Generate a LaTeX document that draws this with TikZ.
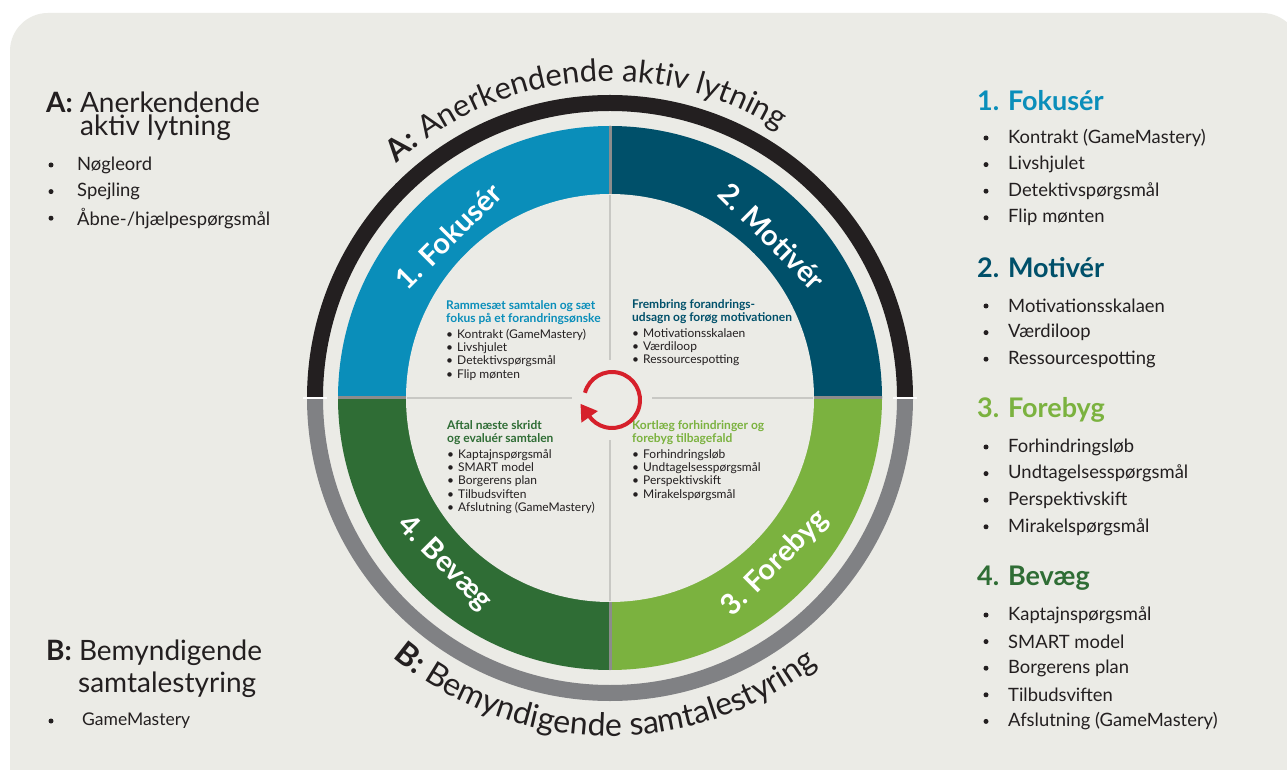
\documentclass[tikz,border=0pt]{standalone}
\usepackage{fontspec}
\setmainfont{Lato}
\usetikzlibrary{arrows.meta,decorations.text,calc}
\definecolor{bg}{HTML}{EBEBE6}
\definecolor{ink}{HTML}{231F20}
\definecolor{qone}{HTML}{0A8EBA}
\definecolor{qtwo}{HTML}{00506A}
\definecolor{qthree}{HTML}{7BB23F}
\definecolor{qfour}{HTML}{2F6D35}
\definecolor{ringgray}{HTML}{808184}
\definecolor{divgray}{HTML}{8C8C8C}
\definecolor{faint}{HTML}{C8C8C4}
\definecolor{arrowred}{HTML}{D6202B}
\newcommand\qh[2]{{\color{#1}\bfseries\fontsize{12}{13.3}\selectfont #2}}
\newcommand\qi{\makebox[11pt][l]{\textbullet}}
\begin{document}
\begin{tikzpicture}[x=1pt,y=1pt,
  itemtxt/.style={anchor=west, inner sep=0pt, font=\fontsize{18.4}{21}\selectfont, text=ink},
  bul/.style={circle, fill=ink, inner sep=0pt, minimum size=5pt},
  rhead/.style={anchor=west, inner sep=0pt, font=\fontsize{27}{30}\selectfont\bfseries},
  lhead/.style={anchor=west, inner sep=0pt, font=\fontsize{28}{31}\selectfont, text=ink},
  qlabel/.style={font=\fontsize{29}{32}\selectfont\bfseries, text=white, inner sep=0pt},
  qtext/.style={anchor=north west, align=left, inner sep=0pt, font=\fontsize{12}{13.3}\selectfont, text=ink},
  divider/.style={draw=divgray, line width=3pt},
  innerline/.style={draw=faint, line width=2pt},
  ringA/.style={draw=ink, line width=16pt},
  ringB/.style={draw=ringgray, line width=16pt}]
\useasboundingbox (0,0) rectangle (1287,769);
\clip (0,0) rectangle (1287,769);
\fill[white] (0,0) rectangle (1287,769);
\fill[bg, rounded corners=38pt] (10,756) rectangle (1300,-40);

\coordinate (C) at (610,371);
% quadrant sectors
\fill[qone] (C) -- ++(90:272) arc[start angle=90,end angle=180,radius=272] -- cycle;
\fill[qtwo] (C) -- ++(0:272) arc[start angle=0,end angle=90,radius=272] -- cycle;
\fill[qthree] (C) -- ++(270:272) arc[start angle=270,end angle=360,radius=272] -- cycle;
\fill[qfour] (C) -- ++(180:272) arc[start angle=180,end angle=270,radius=272] -- cycle;
\draw[divider] ($(C)+(0,272)$) -- ($(C)+(0,-272)$);
\draw[divider] ($(C)+(-272,0)$) -- ($(C)+(272,0)$);
\fill[bg] (C) circle[radius=204];
\draw[innerline] ($(C)+(0,203)$) -- ($(C)+(0,-203)$);
\draw[innerline] ($(C)+(-203,0)$) -- ($(C)+(203,0)$);
\fill[bg] (612,369) circle[radius=40];

% outer ring
\draw[ringA] (C) ++(0:295) arc[start angle=0,end angle=180,radius=295];
\draw[ringB] (C) ++(180:295) arc[start angle=180,end angle=360,radius=295];
\draw[white, line width=2.5pt] (C) ++(0:283) -- ++(0:24);
\draw[white, line width=2.5pt] (C) ++(180:283) -- ++(180:24);

% curved titles
\path[decorate, decoration={text along path, text align=center, text color=ink,
  text={|\fontsize{31}{31}\selectfont\bfseries|A:|\fontsize{31}{31}\selectfont| Anerkendende aktiv lytning}}]
  (C) ++(150:317) arc[start angle=150, end angle=40, radius=317];
\path[decorate, decoration={text along path, text align=center, text color=ink,
  text={|\fontsize{32}{32}\selectfont\bfseries|B:|\fontsize{32}{32}\selectfont| Bemyndigende samtalestyring}}]
  (C) ++(204:338) arc[start angle=204, end angle=334, radius=338];

% quadrant labels
\node[qlabel, rotate=45] (l1) at ($(C)+(135:229)$) {1. Fokusér};
\node[qlabel, rotate=-45] (l2) at ($(C)+(45:229)$) {2. Motivér};
\node[qlabel, rotate=45] (l3) at ($(C)+(315:234)$) {3. Forebyg};
\node[qlabel, rotate=-45] (l4) at ($(C)+(225:234)$) {4. Bevæg};

% inner texts
\node[qtext] (t1) at (446,469) {\qh{qone}{Rammesæt samtalen og sæt}\\
  \qh{qone}{fokus på et forandringsønske}\\[2.5pt]
  \qi Kontrakt (GameMastery)\\ \qi Livshjulet\\ \qi Detektivspørgsmål\\ \qi Flip mønten};
\node[qtext] (t2) at (632,470) {\qh{qtwo}{Frembring forandrings-}\\
  \qh{qtwo}{udsagn og forøg motivationen}\\[2.5pt]
  \qi Motivationsskalaen\\ \qi Værdiloop\\ \qi Ressourcespotting};
\node[qtext] (t3) at (632,349) {\qh{qthree}{Kortlæg forhindringer og}\\
  \qh{qthree}{forebyg tilbagefald}\\[2.5pt]
  \qi Forhindringsløb\\ \qi Undtagelsesspørgsmål\\ \qi Perspektivskift\\ \qi Mirakelspørgsmål};
\node[qtext] (t4) at (447,349) {\qh{qfour}{Aftal næste skridt}\\
  \qh{qfour}{og evaluér samtalen}\\[2.5pt]
  \qi Kaptajnspørgsmål\\ \qi SMART model\\ \qi Borgerens plan\\ \qi Tilbudsviften\\ \qi Afslutning (GameMastery)};

% red cycle arrow
\coordinate (R) at (612,369);
\draw[arrowred, line width=4pt, -{Triangle[length=16pt,width=19pt]}]
  (R) ++(165:28) arc[start angle=165, end angle=-145, radius=28] -- ++(125:15);

% left panel
\node[lhead] (la1) at (46,667) {\textbf{A:} Anerkendende};
\node[lhead] (la2) at (80,641) {aktiv lytning};
\foreach \t [count=\i] in {Nøgleord, Spejling, Åbne-/hjælpespørgsmål} {
  \node[bul] (lab\i) at (51,{604-(\i-1)*26.6}) {};
  \node[itemtxt] (lat\i) at (77,{604-(\i-1)*26.6}) {\t};
}
\node[lhead] (lb1) at (46,116) {\textbf{B:} Bemyndigende};
\node[lhead] (lb2) at (78,84) {samtalestyring};
\node[bul] (lbb1) at (51,48) {};
\node[itemtxt, font=\fontsize{17.5}{20}\selectfont] (lbt1) at (82,48) {GameMastery};

% right panel
\node[rhead, text=qone] (r1) at (977,668) {1. Fokusér};
\foreach \t [count=\i] in {Kontrakt (GameMastery), Livshjulet, Detektivspørgsmål, Flip mønten} {
  \node[bul] (r1b\i) at (986,{631-(\i-1)*26.6}) {};
  \node[itemtxt] (r1t\i) at (1008,{631-(\i-1)*26.6}) {\t};
}
\node[rhead, text=qtwo] (r2) at (977,501) {2. Motivér};
\foreach \t [count=\i] in {Motivationsskalaen, Værdiloop, Ressourcespotting} {
  \node[bul] (r2b\i) at (986,{463-(\i-1)*26.6}) {};
  \node[itemtxt] (r2t\i) at (1008,{463-(\i-1)*26.6}) {\t};
}
\node[rhead, text=qthree] (r3) at (977,359) {3. Forebyg};
\foreach \t [count=\i] in {Forhindringsløb, Undtagelsesspørgsmål, Perspektivskift, Mirakelspørgsmål} {
  \node[bul] (r3b\i) at (986,{322-(\i-1)*26.6}) {};
  \node[itemtxt] (r3t\i) at (1008,{322-(\i-1)*26.6}) {\t};
}
\node[rhead, text=qfour] (r4) at (977,191) {4. Bevæg};
\foreach \t [count=\i] in {Kaptajnspørgsmål, SMART model, Borgerens plan, Tilbudsviften, Afslutning (GameMastery)} {
  \node[bul] (r4b\i) at (986,{154-(\i-1)*26.6}) {};
  \node[itemtxt] (r4t\i) at (1008,{154-(\i-1)*26.6}) {\t};
}
\end{tikzpicture}
\end{document}
